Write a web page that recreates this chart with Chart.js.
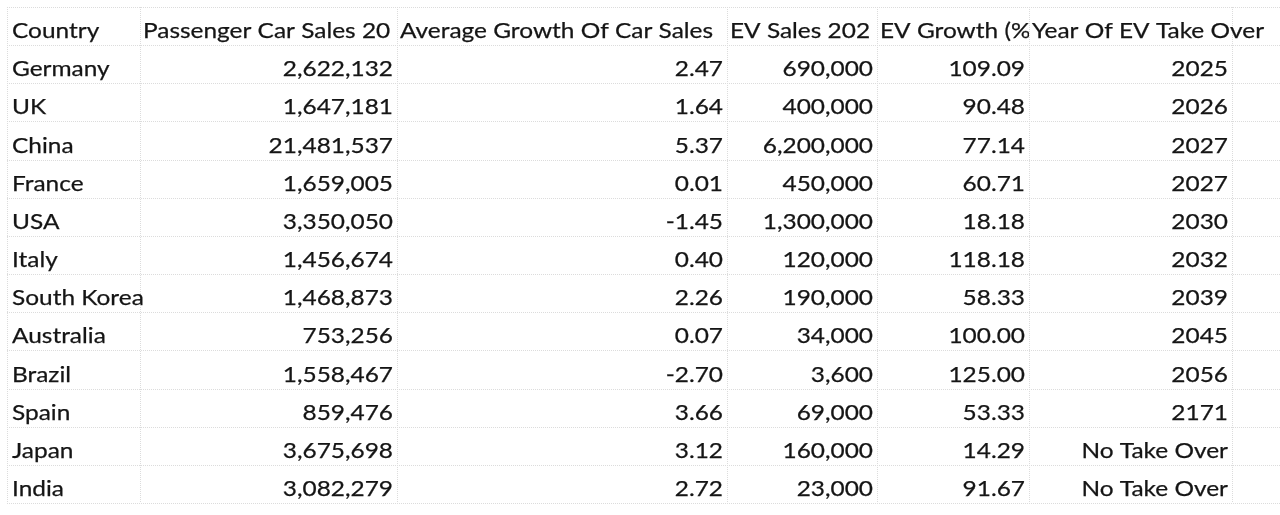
<!DOCTYPE html>
<html>
<head>
<meta charset="utf-8">
<title>EV Take Over</title>
<script src="https://cdn.jsdelivr.net/npm/chart.js@4.4.1/dist/chart.umd.min.js"></script>
<style>
  html, body { margin: 0; padding: 0; background: #fff; }
  #wrap { width: 1280px; height: 515px; }
</style>
</head>
<body>
<div id="wrap"><canvas id="sheet"></canvas></div>
<script>
// ---- data ----
const headers = ['Country', 'Passenger Car Sales 20', 'Average Growth Of Car Sales', 'EV Sales 202', 'EV Growth (%', 'Year Of EV Take Over'];
const countries = ['Germany', 'UK', 'China', 'France', 'USA', 'Italy', 'South Korea', 'Australia', 'Brazil', 'Spain', 'Japan', 'India'];
const carSales = [2622132, 1647181, 21481537, 1659005, 3350050, 1456674, 1468873, 753256, 1558467, 859476, 3675698, 3082279];
const avgGrowth = [2.47, 1.64, 5.37, 0.01, -1.45, 0.40, 2.26, 0.07, -2.70, 3.66, 3.12, 2.72];
const evSales = [690000, 400000, 6200000, 450000, 1300000, 120000, 190000, 34000, 3600, 69000, 160000, 23000];
const evGrowth = [109.09, 90.48, 77.14, 60.71, 18.18, 118.18, 58.33, 100.00, 125.00, 53.33, 14.29, 91.67];
const takeOver = [2025, 2026, 2027, 2027, 2030, 2032, 2039, 2045, 2056, 2171, null, null];

// ---- sheet layout (column borders on the x scale) ----
const colEdges = [7, 140, 397, 727, 877, 1029, 1232];
const FONT = '22px Lato, "Noto Sans", sans-serif';
const INK = '#151515';
const GRID = '#dcdcdc';

const fmtInt = v => v.toLocaleString('en-US');
const fmt2 = v => v.toFixed(2);

// one scatter dataset per column, point sits at the cell's anchor corner
function column(values, fmt, edgeIdx, align) {
  return {
    data: values.map((v, i) => ({ x: align === 'left' ? colEdges[edgeIdx] : colEdges[edgeIdx + 1], y: i + 2 })),
    labels: values.map(fmt),
    align: align,
    pointRadius: 0,
    pointHoverRadius: 0
  };
}

const datasets = [
  column(countries, v => v, 0, 'left'),
  column(carSales, fmtInt, 1, 'right'),
  column(avgGrowth, fmt2, 2, 'right'),
  column(evSales, fmtInt, 3, 'right'),
  column(evGrowth, fmt2, 4, 'right'),
  column(takeOver, v => v === null ? 'No Take Over' : String(v), 5, 'right')
];

let sx = 1;

const sheetPlugin = {
  id: 'sheet',
  beforeDatasetsDraw(chart) {
    const { ctx, chartArea, scales: { x, y } } = chart;
    ctx.save();
    ctx.strokeStyle = GRID;
    ctx.lineWidth = 1;
    ctx.setLineDash([1, 1]);
    for (let r = 0; r <= countries.length + 1; r++) {
      const py = Math.round(y.getPixelForValue(r)) + 0.5;
      ctx.beginPath();
      ctx.moveTo(chartArea.left, py);
      ctx.lineTo(chartArea.right, py);
      ctx.stroke();
    }
    colEdges.forEach(e => {
      const px = Math.round(x.getPixelForValue(e)) + 0.5;
      ctx.beginPath();
      ctx.moveTo(px, chartArea.top);
      ctx.lineTo(px, chartArea.bottom);
      ctx.stroke();
    });
    ctx.restore();
  },
  afterDatasetsDraw(chart) {
    const { ctx, scales: { x, y } } = chart;
    ctx.save();
    ctx.font = FONT;
    ctx.fillStyle = INK;
    ctx.strokeStyle = INK;
    ctx.lineWidth = 0.25;
    ctx.textBaseline = 'alphabetic';
    // squeeze the substitute font to Calibri-like widths
    sx = 313 / ctx.measureText('Average Growth Of Car Sales').width;

    const put = (txt, px, py, align) => {
      ctx.save();
      ctx.translate(px, py);
      ctx.scale(sx, 1);
      ctx.textAlign = align;
      ctx.fillText(txt, 0, 0);
      ctx.strokeText(txt, 0, 0);
      ctx.restore();
    };

    // header row, clipped to its cell except the last one (spills into empty cell)
    headers.forEach((h, i) => {
      const left = x.getPixelForValue(colEdges[i]);
      const right = i < headers.length - 1 ? x.getPixelForValue(colEdges[i + 1]) : chart.width;
      ctx.save();
      ctx.beginPath();
      ctx.rect(left, 0, right - left, chart.height);
      ctx.clip();
      put(h, left + (i === 0 ? 5 : 3), y.getPixelForValue(1) - 7, 'left');
      ctx.restore();
    });

    chart.data.datasets.forEach((ds, di) => {
      const meta = chart.getDatasetMeta(di);
      meta.data.forEach((el, j) => {
        const px = ds.align === 'left' ? el.x + 5 : el.x - 4;
        put(ds.labels[j], px, el.y - 7, ds.align);
      });
    });
    ctx.restore();
  }
};

new Chart(document.getElementById('sheet'), {
  type: 'scatter',
  data: { datasets: datasets },
  options: {
    responsive: true,
    maintainAspectRatio: false,
    animation: false,
    layout: { padding: { left: 7, top: 7, right: 0, bottom: 12 } },
    plugins: { legend: { display: false }, tooltip: { enabled: false } },
    events: [],
    scales: {
      x: { type: 'linear', display: false, min: 7, max: 1280 },
      y: { type: 'linear', display: false, min: 0, max: countries.length + 1, reverse: true }
    }
  },
  plugins: [sheetPlugin]
});
</script>
</body>
</html>
